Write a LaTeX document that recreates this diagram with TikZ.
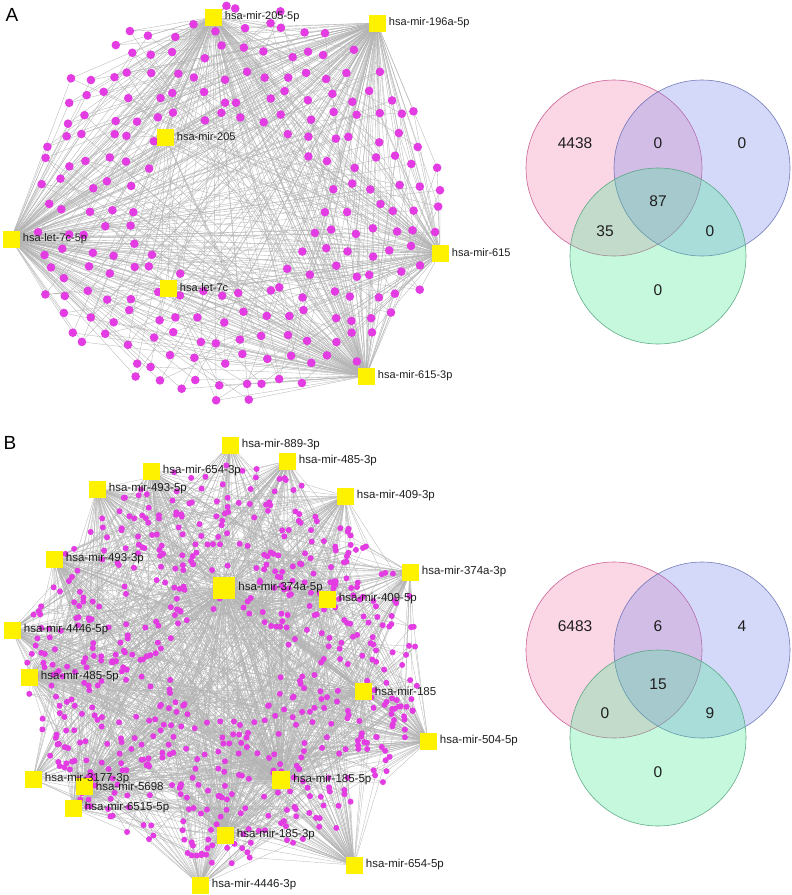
\documentclass[tikz,border=0pt]{standalone}
\usepackage{fontspec}
\setmainfont{Liberation Sans}
\usetikzlibrary{calc}
\definecolor{hubY}{RGB}{255,242,0}
\definecolor{dotM}{RGB}{226,60,226}
\definecolor{lnk}{RGB}{180,180,180}
\definecolor{vPinkF}{RGB}{245,122,172}
\definecolor{vBlueF}{RGB}{118,132,238}
\definecolor{vGreenF}{RGB}{65,232,145}
\definecolor{vPinkD}{RGB}{195,75,135}
\definecolor{vBlueD}{RGB}{95,105,175}
\definecolor{vGreenD}{RGB}{75,160,120}
\definecolor{txt}{RGB}{30,30,30}
\tikzset{
  hub/.style={rectangle, fill=hubY, draw=none, minimum size=17pt, inner sep=0pt},
  bighub/.style={hub, minimum size=22pt},
  dotA/.style={circle, fill=dotM, draw=none, minimum size=8.6pt, inner sep=0pt},
  dotB/.style={circle, fill=dotM, draw=none, minimum size=6pt, inner sep=0pt},
  link/.style={draw=lnk, line width=0.33pt},
  labA/.style={anchor=west, inner sep=0pt, text=txt, font=\fontsize{11}{11}\selectfont},
  labB/.style={anchor=west, inner sep=0pt, text=txt, font=\fontsize{11.5}{11.5}\selectfont},
  panel/.style={anchor=center, inner sep=0pt, text=black, font=\fontsize{19}{19}\selectfont},
  vnum/.style={anchor=center, inner sep=0pt, text=txt, font=\fontsize{15.5}{15.5}\selectfont},
  vcirc/.style={circle, minimum size=176pt, inner sep=0pt, line width=0.6pt, fill opacity=0.3, draw opacity=0.85},
}
\pgfmathdeclarerandomlist{hubsA}{{hA1}{hA1}{hA1}{hA1}{hA2}{hA2}{hA2}{hA2}{hA2}{hA4}{hA4}{hA4}{hA4}{hA4}{hA7}{hA7}{hA7}{hA7}{hA5}{hA5}{hA3}{hA6}}
\pgfmathdeclarerandomlist{hubsB}{{hB7}{hB7}{hB7}{hB7}{hB7}{hB7}{hB7}{hB7}{hB16}{hB16}{hB16}{hB16}{hB16}{hB16}{hB16}{hB16}{hB1}{hB2}{hB2}{hB3}{hB4}{hB4}{hB5}{hB5}{hB6}{hB6}{hB8}{hB9}{hB9}{hB10}{hB10}{hB11}{hB11}{hB12}{hB13}{hB13}{hB14}{hB15}{hB17}{hB17}{hB18}{hB18}{hB19}{hB19}{hB20}{hB20}}
\newcount\dotcountA
\begin{document}
\begin{tikzpicture}[x=1pt,y=-1pt]
\useasboundingbox[fill=white] (0,0) rectangle (792,895);

% ---------------- Panel A ----------------
\node[panel] (pA) at (12,15) {A};
\coordinate (hA1) at (213,17);
\coordinate (hA2) at (377,23);
\coordinate (hA3) at (165,137);
\coordinate (hA4) at (11,239);
\coordinate (hA5) at (440,253);
\coordinate (hA6) at (168,288);
\coordinate (hA7) at (366,376);

\pgfmathsetseed{4242}
\global\dotcountA=0
\foreach \gx in {0,...,19}{
 \foreach \gy in {0,...,18}{
  \pgfmathsetmacro\myx{22+\gx*22+(rnd-0.5)*14}
  \pgfmathsetmacro\myy{8+\gy*22+(rnd-0.5)*14}
  \pgfmathsetmacro\myq{((\myx-232)/212)^2+((\myy-203)/198)^2}
  \ifdim\myq pt<1pt \ifdim\myq pt>0.17pt
    \global\advance\dotcountA by 1
    \edef\myn{\the\dotcountA}
    \coordinate (pa\myn) at (\myx,\myy);
    \xdef\bestd{1000}\xdef\besth{hA1}
    \foreach \hn/\hx/\hy in {hA1/213/17, hA2/377/23, hA4/11/239, hA5/440/253, hA7/366/376}{
      \pgfmathsetmacro\myd{((\myx-\hx)/100)^2+((\myy-\hy)/100)^2}
      \ifdim\myd pt<\bestd pt \xdef\bestd{\myd}\xdef\besth{\hn}\fi
    }
    \pgfmathrandomitem{\myha}{hubsA}
    \pgfmathrandomitem{\myhb}{hubsA}
    \pgfmathrandomitem{\myhc}{hubsA}
    \draw[link] (pa\myn) -- (\besth) (pa\myn) -- (\myha) (pa\myn) -- (\myhb) (pa\myn) -- (\myhc);
  \fi\fi
 }
}
\edef\totA{\the\dotcountA}
\foreach \i in {1,...,\totA}{ \node[dotA] (pa\i) at (pa\i) {}; }

\node[hub] (hA1) at (hA1) {};
\node[hub] (hA2) at (hA2) {};
\node[hub] (hA3) at (hA3) {};
\node[hub] (hA4) at (hA4) {};
\node[hub] (hA5) at (hA5) {};
\node[hub] (hA6) at (hA6) {};
\node[hub] (hA7) at (hA7) {};

\node[labA] (tA1) at ([xshift=3pt]hA1.east) {hsa-mir-205-5p};
\node[labA] (tA2) at ([xshift=3pt]hA2.east) {hsa-mir-196a-5p};
\node[labA] (tA3) at ([xshift=3pt]hA3.east) {hsa-mir-205};
\node[labA] (tA4) at ([xshift=3pt]hA4.east) {hsa-let-7c-5p};
\node[labA] (tA5) at ([xshift=3pt]hA5.east) {hsa-mir-615};
\node[labA] (tA6) at ([xshift=3pt]hA6.east) {hsa-let-7c};
\node[labA] (tA7) at ([xshift=3pt]hA7.east) {hsa-mir-615-3p};

% Venn A
\node[vcirc, draw=vPinkD, fill=vPinkF] (vA1) at (614,168) {};
\node[vcirc, draw=vBlueD, fill=vBlueF] (vA2) at (702,168) {};
\node[vcirc, draw=vGreenD, fill=vGreenF] (vA3) at (658,256) {};
\node[vnum] (nA1) at (575,143) {4438};
\node[vnum] (nA2) at (658,143) {0};
\node[vnum] (nA3) at (742,143) {0};
\node[vnum] (nA4) at (658,201) {87};
\node[vnum] (nA5) at (605,231) {35};
\node[vnum] (nA6) at (710,231) {0};
\node[vnum] (nA7) at (658,290) {0};

% ---------------- Panel B ----------------
\node[panel] (pB) at (10,443) {B};
\coordinate (hB1) at (230,445);
\coordinate (hB2) at (287,461);
\coordinate (hB3) at (151,471);
\coordinate (hB4) at (97,489);
\coordinate (hB5) at (345,496);
\coordinate (hB6) at (54,559);
\coordinate (hB7) at (224,588);
\coordinate (hB8) at (327,599);
\coordinate (hB9) at (410,572);
\coordinate (hB10) at (12,630);
\coordinate (hB11) at (29,677);
\coordinate (hB12) at (363,691);
\coordinate (hB13) at (428,741);
\coordinate (hB14) at (33,779);
\coordinate (hB15) at (84,786);
\coordinate (hB16) at (281,780);
\coordinate (hB17) at (73,808);
\coordinate (hB18) at (225,835);
\coordinate (hB19) at (354,865);
\coordinate (hB20) at (200,885);

\pgfmathsetseed{777}
\foreach \i in {1,...,660}{
  \pgfmathsetmacro\myang{rnd*360}
  \pgfmathsetmacro\myr{sqrt(0.08+0.92*rnd)}
  \pgfmathsetmacro\myx{225+198*\myr*cos(\myang)}
  \pgfmathsetmacro\myy{665+200*\myr*sin(\myang)}
  \coordinate (pb\i) at (\myx,\myy);
  \xdef\bestd{1000}\xdef\besth{hB1}
  \foreach \hn/\hx/\hy in {hB1/230/445, hB2/287/461, hB3/151/471, hB4/97/489, hB5/345/496, hB6/54/559, hB8/327/599, hB9/410/572, hB10/12/630, hB11/29/677, hB12/363/691, hB13/428/741, hB14/33/779, hB15/84/786, hB17/73/808, hB18/225/835, hB19/354/865, hB20/200/885}{
    \pgfmathsetmacro\myd{((\myx-\hx)/100)^2+((\myy-\hy)/100)^2}
    \ifdim\myd pt<\bestd pt \xdef\bestd{\myd}\xdef\besth{\hn}\fi
  }
  \pgfmathrandomitem{\myha}{hubsB}
  \pgfmathrandomitem{\myhb}{hubsB}
  \draw[link, line width=0.3pt] (pb\i) -- (\besth) (pb\i) -- (\myha) (pb\i) -- (\myhb);
}
\foreach \i in {1,...,660}{ \node[dotB] (pb\i) at (pb\i) {}; }

\node[hub] (hB1) at (hB1) {};
\node[hub] (hB2) at (hB2) {};
\node[hub] (hB3) at (hB3) {};
\node[hub] (hB4) at (hB4) {};
\node[hub] (hB5) at (hB5) {};
\node[hub] (hB6) at (hB6) {};
\node[bighub] (hB7) at (hB7) {};
\node[hub] (hB8) at (hB8) {};
\node[hub] (hB9) at (hB9) {};
\node[hub] (hB10) at (hB10) {};
\node[hub] (hB11) at (hB11) {};
\node[hub] (hB12) at (hB12) {};
\node[hub] (hB13) at (hB13) {};
\node[hub] (hB14) at (hB14) {};
\node[hub] (hB15) at (hB15) {};
\node[hub, minimum size=18pt] (hB16) at (hB16) {};
\node[hub] (hB17) at (hB17) {};
\node[hub] (hB18) at (hB18) {};
\node[hub] (hB19) at (hB19) {};
\node[hub] (hB20) at (hB20) {};

\node[labB] (tB1) at ([xshift=3pt]hB1.east) {hsa-mir-889-3p};
\node[labB] (tB2) at ([xshift=3pt]hB2.east) {hsa-mir-485-3p};
\node[labB] (tB3) at ([xshift=3pt]hB3.east) {hsa-mir-654-3p};
\node[labB] (tB4) at ([xshift=3pt]hB4.east) {hsa-mir-493-5p};
\node[labB] (tB5) at ([xshift=3pt]hB5.east) {hsa-mir-409-3p};
\node[labB] (tB6) at ([xshift=3pt]hB6.east) {hsa-mir-493-3p};
\node[labB] (tB7) at ([xshift=3pt]hB7.east) {hsa-mir-374a-5p};
\node[labB] (tB8) at ([xshift=3pt]hB8.east) {hsa-mir-409-5p};
\node[labB] (tB9) at ([xshift=3pt]hB9.east) {hsa-mir-374a-3p};
\node[labB] (tB10) at ([xshift=3pt]hB10.east) {hsa-mir-4446-5p};
\node[labB] (tB11) at ([xshift=3pt]hB11.east) {hsa-mir-485-5p};
\node[labB] (tB12) at ([xshift=3pt]hB12.east) {hsa-mir-185};
\node[labB] (tB13) at ([xshift=3pt]hB13.east) {hsa-mir-504-5p};
\node[labB] (tB14) at ([xshift=3pt]hB14.east) {hsa-mir-3177-3p};
\node[labB] (tB15) at ([xshift=3pt]hB15.east) {hsa-mir-5698};
\node[labB] (tB16) at ([xshift=3pt]hB16.east) {hsa-mir-185-5p};
\node[labB] (tB17) at ([xshift=3pt]hB17.east) {hsa-mir-6515-5p};
\node[labB] (tB18) at ([xshift=3pt]hB18.east) {hsa-mir-185-3p};
\node[labB] (tB19) at ([xshift=3pt]hB19.east) {hsa-mir-654-5p};
\node[labB] (tB20) at ([xshift=3pt]hB20.east) {hsa-mir-4446-3p};

% Venn B
\node[vcirc, draw=vPinkD, fill=vPinkF] (vB1) at (614,650) {};
\node[vcirc, draw=vBlueD, fill=vBlueF] (vB2) at (702,650) {};
\node[vcirc, draw=vGreenD, fill=vGreenF] (vB3) at (658,738) {};
\node[vnum] (nB1) at (575,626) {6483};
\node[vnum] (nB2) at (658,626) {6};
\node[vnum] (nB3) at (742,626) {4};
\node[vnum] (nB4) at (658,684) {15};
\node[vnum] (nB5) at (605,713) {0};
\node[vnum] (nB6) at (710,713) {9};
\node[vnum] (nB7) at (658,772) {0};
\end{tikzpicture}
\end{document}
